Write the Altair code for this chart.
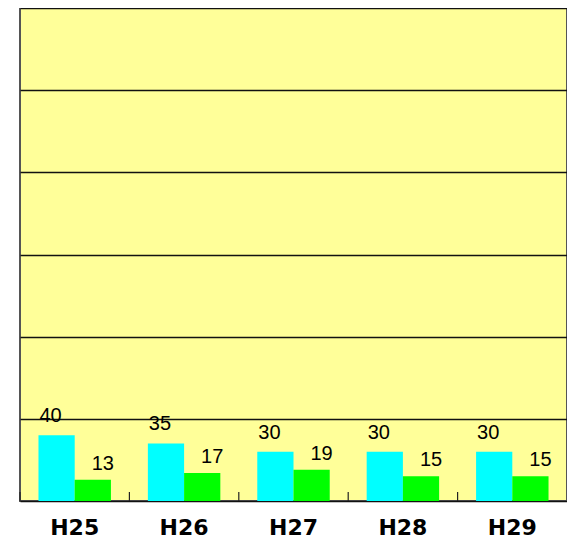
import altair as alt
import pandas as pd

categories = ["H25", "H26", "H27", "H28", "H29"]
series_a = [40, 35, 30, 30, 30]
series_b = [13, 17, 19, 15, 15]

rows = []
for c, a, b in zip(categories, series_a, series_b):
    rows.append({"cat": c, "series": "A", "value": a})
    rows.append({"cat": c, "series": "B", "value": b})
df = pd.DataFrame(rows)
cat_df = pd.DataFrame({"cat": categories})

W, H = 547, 493

x_scale = alt.Scale(domain=categories, paddingInner=0, paddingOuter=0)
y_scale = alt.Scale(domain=[0, 300])
off_scale = alt.Scale(domain=["A", "B"], paddingInner=0, paddingOuter=0.51)

base = alt.Chart(df)

bars = base.mark_bar().encode(
    x=alt.X("cat:N", scale=x_scale, sort=categories,
            axis=alt.Axis(title=None, ticks=False, domain=False, labelAngle=0,
                          labelFont="DejaVu Sans", labelFontWeight="bold",
                          labelFontSize=22, labelColor="black", labelPadding=16)),
    xOffset=alt.XOffset("series:N", scale=off_scale),
    y=alt.Y("value:Q", scale=y_scale,
            axis=alt.Axis(title=None, labels=False, ticks=False, domain=False,
                          values=[0, 50, 100, 150, 200, 250, 300],
                          grid=True, gridColor="#111111", gridWidth=1.3)),
    color=alt.Color("series:N", scale=alt.Scale(domain=["A", "B"], range=["#00FFFF", "#00FF00"]),
                    legend=None),
)

text_a = base.transform_filter(alt.datum.series == "A").mark_text(
    font="Liberation Sans", fontSize=20, color="black", baseline="alphabetic",
    align="center", dx=-6, dy=-13,
).encode(
    x=alt.X("cat:N", scale=x_scale, sort=categories),
    xOffset=alt.XOffset("series:N", scale=off_scale),
    y=alt.Y("value:Q", scale=y_scale),
    text="value:Q",
)

text_b = base.transform_filter(alt.datum.series == "B").mark_text(
    font="Liberation Sans", fontSize=20, color="black", baseline="alphabetic",
    align="center", dx=10, dy=-10,
).encode(
    x=alt.X("cat:N", scale=x_scale, sort=categories),
    xOffset=alt.XOffset("series:N", scale=off_scale),
    y=alt.Y("value:Q", scale=y_scale),
    text="value:Q",
)

ticks = alt.Chart(cat_df).mark_rule(color="#222222", strokeWidth=1.2).encode(
    x=alt.X("cat:N", scale=x_scale, sort=categories, bandPosition=0),
    y=alt.value(H),
    y2=alt.value(H - 9),
)

chart = alt.layer(bars, text_a, text_b, ticks).properties(
    width=W, height=H,
    background="white",
    autosize=alt.AutoSizeParams(type="none"),
    padding={"left": 12, "top": 0, "right": 0, "bottom": 38},
).configure_view(
    fill="#FFFF99", stroke="#555555", strokeWidth=2,
)

chart.save("out.html", embed_options={"renderer": "svg", "actions": False})
